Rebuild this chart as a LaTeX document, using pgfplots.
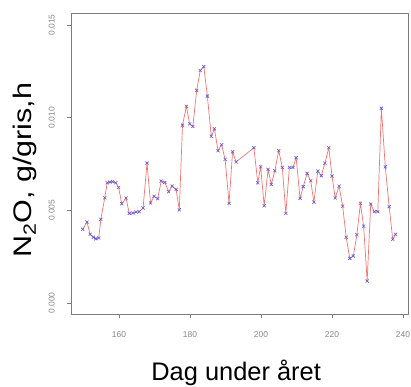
\documentclass[border=0pt]{standalone}
\usepackage{fontspec}
\setmainfont{Liberation Sans}
\usepackage{pgfplots}
\pgfplotsset{compat=1.18}
\definecolor{linered}{RGB}{242,115,115}
\definecolor{markblue}{RGB}{100,85,220}
\definecolor{axgray}{RGB}{125,125,125}
\definecolor{tickgray}{RGB}{135,135,135}
\begin{document}
\begin{tikzpicture}
\path[use as bounding box] (-71bp,-73bp) rectangle (340bp,314bp);
\begin{axis}[
  at={(0,0)}, anchor=south west,
  scale only axis, width=337bp, height=301bp,
  xmin=146.5, xmax=241.4, ymin=-0.00059, ymax=0.01565,
  scaled y ticks=false, scaled x ticks=false,
  xtick={160,180,200,220,240},
  ytick={0,0.005,0.010,0.015},
  yticklabels={0.000,0.005,0.010,0.015},
  /pgf/number format/assume math mode=true,
  tick pos=left, tick align=outside, major tick length=4bp,
  tick style={axgray, line width=0.6bp},
  axis line style={axgray, line width=0.7bp},
  xticklabel style={font=\fontsize{8.5}{9}\selectfont, text=tickgray, anchor=north, inner sep=0pt, yshift=-13bp},
  yticklabel style={font=\fontsize{8.5}{9}\selectfont, text=tickgray, xshift=-12bp, rotate=90, anchor=south, inner sep=0pt},
  every axis x label/.style={at={(axis description cs:0.49,0)}, anchor=base, yshift=-66bp, font=\fontsize{25.5}{28}\selectfont},
  every axis y label/.style={at={(axis description cs:0,0.478)}, xshift=-39bp, rotate=90, xscale=1.2, anchor=base, font=\fontsize{25.5}{28}\selectfont},
  xlabel={Dag under året},
  ylabel={N\textsubscript{2}O, g/gris,h},
  clip=false,
]
\addplot[linered, line width=0.7bp, mark=x, mark size=2.2bp, mark options={markblue, line width=0.6bp}] coordinates {
(149.8,0.00398) (151.0,0.00437) (151.9,0.00371) (152.8,0.00355) (153.5,0.00347)
(154.3,0.00351) (154.9,0.00452) (156.0,0.00568) (156.7,0.00649) (157.5,0.00653)
(158.2,0.00655) (159.1,0.00649) (159.9,0.00624) (160.8,0.00536) (162.0,0.00567)
(162.9,0.00484) (163.9,0.00486) (164.8,0.00491) (165.7,0.00493) (166.8,0.00513)
(167.9,0.00755) (168.9,0.00540) (169.9,0.00576) (170.9,0.00563) (171.9,0.00658)
(172.9,0.00651) (174.0,0.00601) (175.0,0.00631) (176.1,0.00613) (177.0,0.00503)
(177.9,0.00960) (179.0,0.01061) (179.9,0.00967) (180.8,0.00953) (181.9,0.01148)
(182.9,0.01255) (183.9,0.01276) (184.9,0.01117) (186.0,0.00900) (186.9,0.00940)
(187.9,0.00822) (188.9,0.00854) (189.9,0.00775) (191.0,0.00538) (192.0,0.00816)
(193.0,0.00762) (198.0,0.00838) (199.1,0.00649) (199.9,0.00735) (200.9,0.00525)
(202.0,0.00721) (202.9,0.00640) (203.9,0.00714) (205.0,0.00822) (206.0,0.00732)
(207.0,0.00484) (208.0,0.00732) (209.0,0.00732) (209.9,0.00784) (211.0,0.00565)
(211.9,0.00628) (213.0,0.00700) (214.0,0.00660) (214.9,0.00545) (216.0,0.00712)
(217.0,0.00687) (218.0,0.00755) (219.1,0.00838) (220.0,0.00685) (220.9,0.00567)
(222.0,0.00631) (223.0,0.00523) (224.0,0.00355) (225.0,0.00241) (226.0,0.00254)
(227.0,0.00369) (228.0,0.00538) (228.9,0.00415) (229.9,0.00119) (230.9,0.00534)
(231.9,0.00493) (232.9,0.00493) (233.9,0.01051) (235.0,0.00735) (236.1,0.00520)
(237.1,0.00344) (237.9,0.00371)
};
\end{axis}
\end{tikzpicture}
\end{document}
